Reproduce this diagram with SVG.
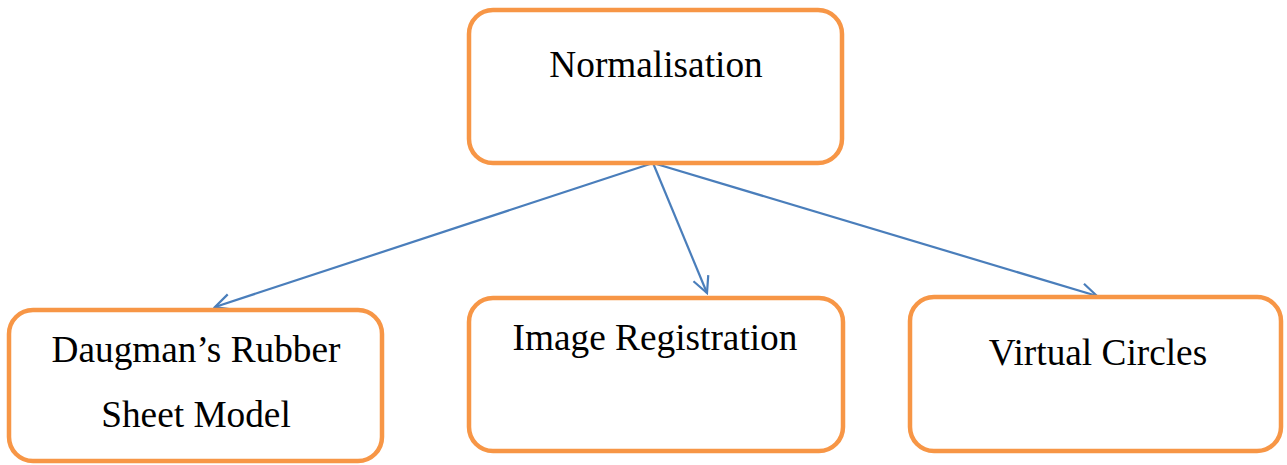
<svg xmlns="http://www.w3.org/2000/svg" width="1287" height="465" viewBox="0 0 1287 465">
<defs>
<style>
.box{fill:#fff;stroke:#F79646;stroke-width:4.5}
.lbl{font-family:"Liberation Serif","Times New Roman",serif;font-size:37.3px;fill:#000;text-anchor:middle}
.con{stroke:#4A7EBB;stroke-width:2.2;fill:none}
</style>
<marker id="arr" viewBox="0 0 20 20" refX="18" refY="10" markerWidth="20" markerHeight="20" markerUnits="userSpaceOnUse" orient="auto">
<path d="M2,2 L18,10 L2,18" fill="none" stroke="#4A7EBB" stroke-width="2.2"/>
</marker>
</defs>
<rect width="1287" height="465" fill="#fff"/>
<g id="connectors">
<line class="con" x1="653" y1="163" x2="215" y2="307" marker-end="url(#arr)"/>
<line class="con" x1="653" y1="163" x2="707" y2="293" marker-end="url(#arr)"/>
<line class="con" x1="653" y1="163" x2="1097" y2="296" marker-end="url(#arr)"/>
</g>
<g id="normalisation">
<rect class="box" x="469" y="10" width="373" height="153" rx="24"/>
<text class="lbl" x="656" y="77">Normalisation</text>
</g>
<g id="daugman">
<rect class="box" x="9" y="310" width="373" height="151" rx="24"/>
<text class="lbl" x="196" y="362">Daugman’s Rubber</text>
<text class="lbl" x="196" y="427">Sheet Model</text>
</g>
<g id="image-registration">
<rect class="box" x="469" y="298" width="374" height="153" rx="24"/>
<text class="lbl" x="655" y="350">Image Registration</text>
</g>
<g id="virtual-circles">
<rect class="box" x="910" y="297" width="371" height="154" rx="24"/>
<text class="lbl" x="1098" y="365">Virtual Circles</text>
</g>
</svg>
